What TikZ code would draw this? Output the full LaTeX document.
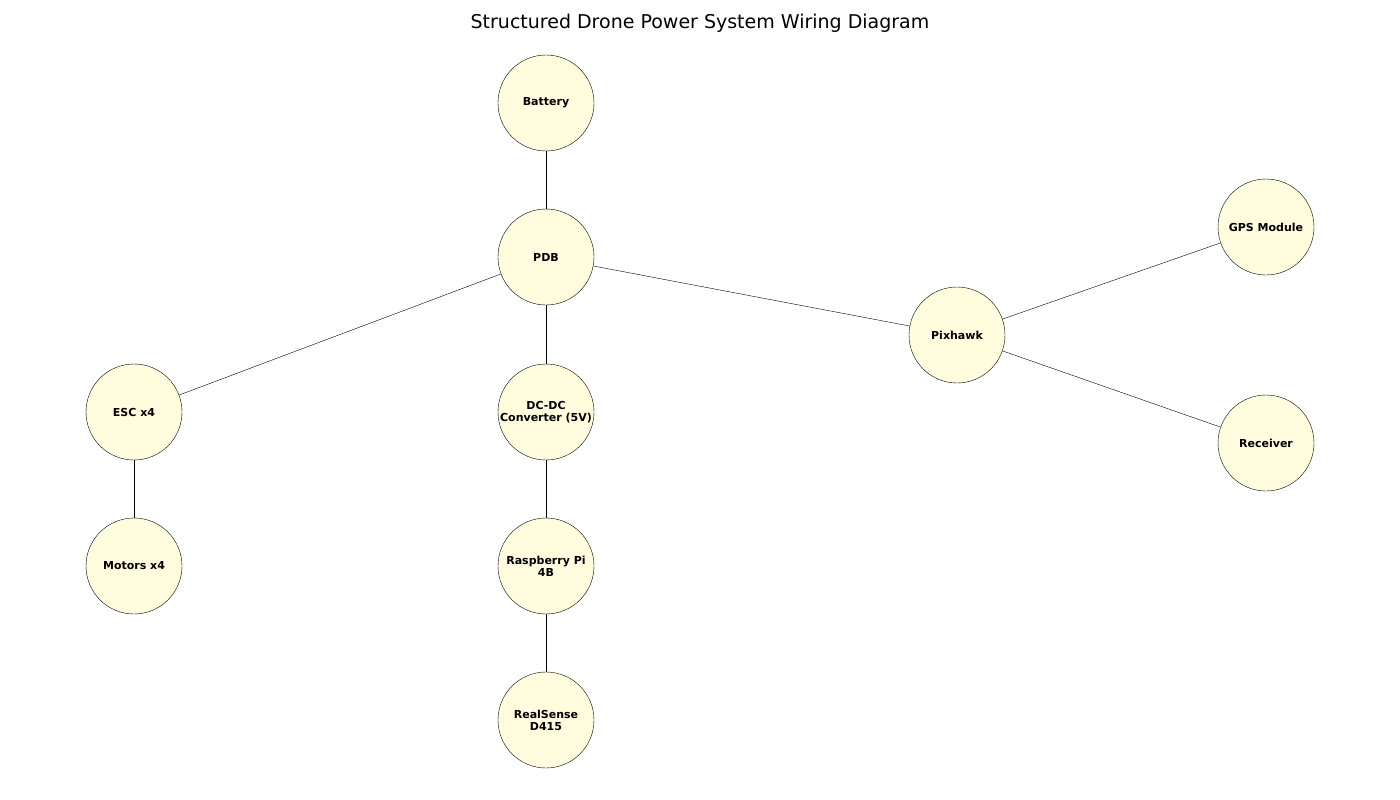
\documentclass[tikz,border=0pt]{standalone}
\usepackage{fontspec}
\setmainfont{DejaVu Sans}
\usetikzlibrary{positioning}
\tikzset{
	% Define style for components
	part/.style={
		circle,
		draw=black, thin,
		fill=yellow!13,
		minimum size=96pt,
		inner sep=0pt,
		align=center,
		font=\fontsize{11}{12}\selectfont\bfseries},
	% Define wire style
	wire/.style={
		-,
		thin}
}
\begin{document}
\begin{tikzpicture}[x=1pt,y=1pt]
	\useasboundingbox (0,0) rectangle (1400,-800);
	\node[font=\fontsize{19}{22}\selectfont] (title) at (700,-23) {Structured Drone Power System Wiring Diagram};

	\node[part] (battery) at (546,-103) {Battery};
	\node[part] (pdb) at (546,-257) {PDB};
	\node[part] (dcdc) at (546,-412) {DC-DC\\Converter (5V)};
	\node[part] (rpi) at (546,-566) {Raspberry Pi\\4B};
	\node[part] (realsense) at (546,-720) {RealSense\\D415};

	\node[part] (esc) at (134,-412) {ESC x4};
	\node[part] (motors) at (134,-566) {Motors x4};

	\node[part] (pixhawk) at (957,-335) {Pixhawk};
	\node[part] (gps) at (1266,-227) {GPS Module};
	\node[part] (receiver) at (1266,-443) {Receiver};

	\path[wire]
	(battery) edge (pdb)
	(pdb) edge (esc)
	(pdb) edge (dcdc)
	(pdb) edge (pixhawk)
	(esc) edge (motors)
	(dcdc) edge (rpi)
	(rpi) edge (realsense)
	(pixhawk) edge (gps)
	(pixhawk) edge (receiver)
	;
\end{tikzpicture}
\end{document}
